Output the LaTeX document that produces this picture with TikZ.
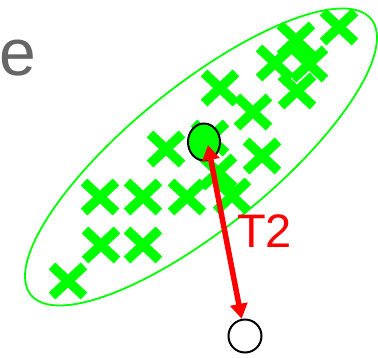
\documentclass[tikz,border=0pt]{standalone}
\usepackage{fontspec}
\newfontfamily\arial{Liberation Sans}
\usetikzlibrary{arrows.meta,shapes.geometric}
\definecolor{xgreen}{RGB}{0,255,0}
\definecolor{egray}{RGB}{102,102,102}

\begin{document}
\begin{tikzpicture}[x=1pt,y=-1pt,
  cloud/.style={xgreen,line width=1.8pt},
  pt/.style={xgreen,line width=9.5pt,line cap=butt},
  mean/.style={ellipse,draw=black,fill=xgreen,line width=2pt,inner sep=0pt,minimum width=32pt,minimum height=37pt},
  probe/.style={circle,draw=black,fill=white,line width=2pt,inner sep=0pt,minimum size=33pt},
  dist/.style={red,line width=5.5pt,{Triangle[length=15pt,width=17pt]}-{Triangle[length=15pt,width=17pt]}}]
\useasboundingbox (0,0) rectangle (378,357);
\draw[cloud,rotate around={39:(201,157)}] (201,157) ellipse [x radius=219,y radius=71];
\draw[pt]
(68,281) +(-16,-15)--+(16,15) +(-16,15)--+(16,-15)
(101,245) +(-16,-15)--+(16,15) +(-16,15)--+(16,-15)
(143,245) +(-16,-15)--+(16,15) +(-16,15)--+(16,-15)
(100,197) +(-16,-15)--+(16,15) +(-16,15)--+(16,-15)
(143,197) +(-16,-15)--+(16,15) +(-16,15)--+(16,-15)
(187,197) +(-16,-15)--+(16,15) +(-16,15)--+(16,-15)
(232,196) +(-16,-15)--+(16,15) +(-16,15)--+(16,-15)
(218,172) +(-16,-15)--+(16,15) +(-16,15)--+(16,-15)
(166,149) +(-16,-15)--+(16,15) +(-16,15)--+(16,-15)
(210,138) +(-16,-15)--+(16,15) +(-16,15)--+(16,-15)
(262,156) +(-16,-15)--+(16,15) +(-16,15)--+(16,-15)
(220,88) +(-16,-15)--+(16,15) +(-16,15)--+(16,-15)
(253,112) +(-16,-15)--+(16,15) +(-16,15)--+(16,-15)
(275,63) +(-16,-15)--+(16,15) +(-16,15)--+(16,-15)
(296,40) +(-16,-15)--+(16,15) +(-16,15)--+(16,-15)
(309,64) +(-16,-15)--+(16,15) +(-16,15)--+(16,-15)
(297,91) +(-16,-15)--+(16,15) +(-16,15)--+(16,-15)
(339,27) +(-16,-15)--+(16,15) +(-16,15)--+(16,-15)
;
\node[mean] (m) at (204,142) {};
\node[probe] (x) at (245,336) {};
\draw[dist] ([shift={(4,3)}]m.center) -- (x);
\node[anchor=base west,inner sep=0pt,text=red,font=\arial\fontsize{47}{47}\selectfont] (t2) at (237,247) {T2};
\node[anchor=base west,inner sep=0pt,text=egray,font=\arial\fontsize{66}{66}\selectfont] (e) at (-1,75) {e};
\end{tikzpicture}
\end{document}
